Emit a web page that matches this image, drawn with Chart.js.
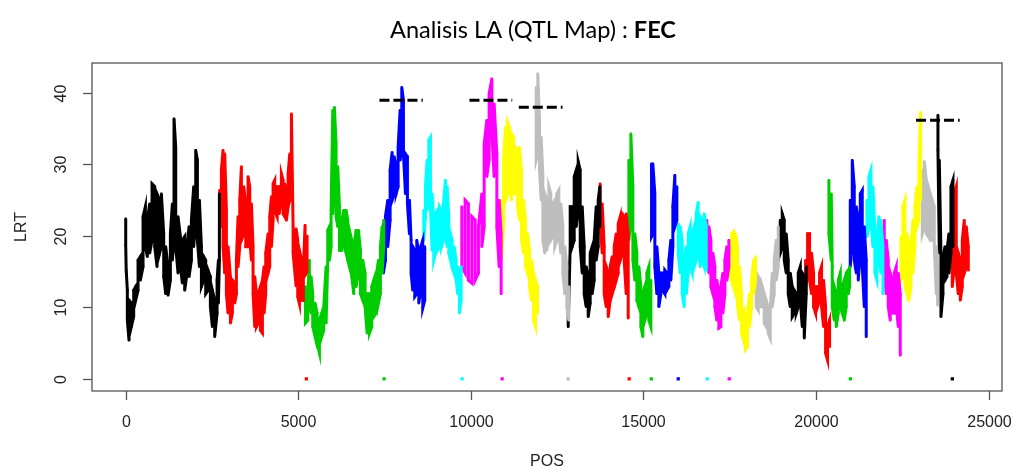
<!DOCTYPE html>
<html><head><meta charset="utf-8">
<script src="https://cdn.jsdelivr.net/npm/chart.js@4/dist/chart.umd.min.js"></script>
<style>html,body{margin:0;padding:0;background:#fff}#wrap{width:1013px;height:471px;position:relative}</style>
</head><body><div id="wrap"><canvas id="c" width="1013" height="471"></canvas></div>
<script>
// ---- data: per chromosome, marker positions with upper / lower LRT of the point band ----
const pos01=[0,15,47,96,163,231,289,357,424,502,569,627,695,763,840,907,985,1033,1101,1159,1226,1294,1352,1400,1449,1516,1584,1642,1709,1777,1835,1903,1970,2028,2077,2135,2193,2260,2318,2386,2453,2511,2579,2647,2685,2714];
const hi01=[22.4,15.2,12.4,11.0,10.6,12.4,12.9,16.6,17.1,22.7,24.1,22.2,24.5,27.3,26.9,25.9,25.0,25.9,20.3,18.5,15.7,20.3,24.5,36.4,32.4,22.7,19.9,19.4,19.9,18.5,21.3,22.2,26.9,32.0,30.6,25.0,18.5,17.1,16.6,15.2,14.3,12.4,11.0,13.8,16.6,25.9];
const lo01=[18.7,14.8,8.2,5.4,7.3,8.7,11.0,12.4,13.8,15.7,18.5,17.1,17.6,19.4,18.5,15.7,17.6,18.5,14.3,11.9,11.7,13.8,16.6,19.4,18.5,14.8,15.7,13.4,12.4,14.8,14.3,16.6,18.5,22.2,19.4,15.7,12.9,13.8,11.9,12.4,10.1,7.3,5.9,9.2,10.6,16.6];
const pos02=[2724,2772,2820,2869,2917,2965,3033,3091,3159,3207,3255,3304,3352,3420,3478,3545,3594,3642,3690,3739,3787,3835,3903,3961,4009,4057,4125,4173,4222,4270,4318,4386,4444,4511,4560,4608,4656,4705,4753,4801,4850,4936,4984,5033,5100,5148,5197,5255];
const hi02=[26.4,29.2,32.0,31.5,23.6,18.5,14.3,13.8,13.4,16.6,22.7,25.0,29.7,26.9,24.5,28.3,26.9,24.5,18.5,14.3,11.9,11.9,12.9,13.8,15.7,17.6,20.3,22.7,25.5,27.3,27.8,26.9,26.9,28.7,27.8,27.3,25.9,28.7,31.5,37.1,21.3,21.0,19.5,18.0,16.5,15.5,21.5,20.0];
const lo02=[22.7,21.3,18.5,14.8,11.9,9.2,7.8,9.2,10.6,11.9,15.7,18.5,19.4,20.3,18.5,18.5,19.4,16.6,11.9,7.3,7.3,7.8,6.8,6.4,9.2,11.9,14.8,15.7,18.5,22.2,23.6,22.7,23.1,25.0,23.1,22.7,22.2,24.1,25.0,25.9,17.6,13.0,11.5,10.5,11.0,11.0,14.5,15.0];
const pos03=[5207,5274,5322,5371,5419,5487,5545,5612,5680,5738,5806,5854,5902,5951,5999,6047,6095,6144,6192,6260,6318,6385,6434,6482,6550,6608,6675,6743,6801,6868,6936,6994,7062,7129,7187,7255,7323,7380,7429,7477];
const hi03=[12.9,11.9,16.6,14.3,11.9,10.6,9.2,8.2,9.2,10.1,15.7,20.8,21.3,23.6,37.6,38.0,32.9,29.7,24.1,22.2,23.6,23.6,22.2,20.8,19.4,18.5,20.8,20.8,18.0,16.6,14.8,11.9,11.9,12.9,13.8,14.3,16.6,18.5,21.3,22.2];
const lo03=[7.8,8.2,11.9,9.2,7.3,5.9,5.0,3.6,5.9,6.8,7.8,16.6,16.6,18.5,23.1,30.6,22.7,21.3,18.0,18.0,18.9,17.6,16.6,15.7,14.3,11.9,12.9,14.8,11.9,11.0,10.1,6.4,6.4,7.3,8.7,9.2,10.6,11.9,14.8,18.5];
const pos04=[7467,7525,7593,7661,7719,7777,7835,7893,7951,7999,8047,8105,8163,8221,8269,8318,8376,8434,8492,8550,8607,8665];
const hi04=[21.7,22.7,25.0,29.2,31.7,31.1,29.7,32.4,37.6,40.8,39.0,31.5,31.1,25.0,19.4,18.5,18.0,19.4,17.6,18.5,19.4,18.5];
const lo04=[14.8,16.6,18.5,22.2,25.0,25.9,25.9,26.9,30.6,32.4,31.5,25.9,24.5,20.3,14.8,12.4,11.5,11.9,10.6,12.4,9.9,11.0];
const pos05=[8637,8685,8733,8782,8830,8878,8926,8975,9033,9091,9149,9207,9265,9313,9361,9410,9458,9516,9574,9622,9670,9719];
const hi05=[23.6,26.9,30.6,33.4,33.8,25.9,22.2,23.1,23.6,24.1,23.6,24.5,27.8,26.9,22.7,20.3,19.4,18.5,16.6,15.7,14.3,15.7];
const lo05=[19.4,22.7,23.6,25.0,24.1,18.0,16.6,17.6,18.0,18.5,18.5,19.4,20.3,18.5,17.6,16.6,15.7,14.8,13.8,11.9,9.2,11.0];
const pos06=[9739,9835,9930,10029,10125,10220,10319,10386,10464,10530,10609,10675,10754,10820,10878];
const hi06=[24.1,25.0,24.5,22.7,22.2,21.3,25.9,32.9,36.2,39.9,42.0,38.5,31.5,25.0,20.3];
const lo06=[15.7,14.8,13.8,13.4,13.8,14.8,18.5,21.3,28.3,30.6,34.3,28.3,21.3,15.7,11.9];
const pos07=[10888,10946,11004,11062,11120,11178,11236,11294,11352,11410,11468,11526,11584,11642,11700,11758,11816,11874,11932];
const hi07=[25.0,30.6,35.2,35.9,35.2,34.3,33.8,32.4,32.0,32.4,29.2,25.0,22.2,20.3,18.0,16.6,14.8,13.8,12.9];
const lo07=[16.6,21.3,25.0,25.9,26.9,25.0,25.9,25.9,24.1,22.2,19.4,17.6,15.7,14.8,12.9,11.0,8.2,7.3,9.2];
const pos08=[11893,11941,11990,12038,12086,12144,12202,12260,12318,12376,12434,12492,12550,12608,12666,12724,12782,12840];
const hi08=[40.8,42.7,36.2,33.8,28.7,25.9,25.0,26.9,25.9,24.5,25.0,25.9,26.4,24.5,21.3,18.5,15.7,12.9];
const lo08=[30.6,31.5,29.2,25.0,19.4,17.6,18.0,20.3,19.4,19.9,18.5,19.4,20.3,17.6,14.8,11.9,10.1,8.2];
const pos09=[12821,12879,12937,12995,13053,13111,13169,13227,13284,13342,13400,13458,13516,13574,13632,13690,13739];
const hi09=[10.1,24.1,24.1,28.3,29.2,30.4,29.2,24.1,18.5,15.7,14.3,17.6,18.5,19.4,24.1,25.0,26.9];
const lo09=[7.3,18.5,18.5,19.4,21.3,23.6,18.5,14.8,11.9,10.1,8.7,10.6,11.9,13.8,16.6,18.5,21.3];
const pos10=[13748,13806,13864,13922,13980,14038,14096,14154,14212,14270,14328,14386,14444,14502,14560];
const hi10=[27.3,24.5,18.5,15.7,14.8,15.7,17.1,18.5,20.3,21.7,22.7,23.1,22.7,23.1,20.3];
const lo10=[22.2,17.6,11.9,10.1,8.7,11.0,11.9,12.9,13.8,14.8,16.6,17.6,16.6,11.9,8.5];
const pos11=[14579,14637,14695,14753,14811,14869,14927,14985,15043,15101,15159,15217];
const hi11=[30.6,34.3,26.9,20.3,17.6,15.7,12.9,11.9,12.9,14.8,15.7,13.8];
const lo11=[19.4,22.2,16.6,13.8,11.0,10.1,7.3,5.9,8.2,9.2,8.2,7.3];
const pos12=[15236,15274,15332,15390,15448,15506,15564,15622,15680,15738,15796,15854,15912,15970];
const hi12=[30.1,30.1,25.9,18.5,14.8,14.8,14.8,15.2,14.8,16.6,19.4,24.1,28.5,26.9];
const lo12=[19.9,20.3,15.7,11.9,10.1,11.9,12.4,11.9,12.4,12.9,13.8,18.5,21.3,22.2];
const pos13=[16009,16067,16125,16183,16241,16299,16356,16414,16472,16530,16588,16646,16704,16762,16820];
const hi13=[21.7,21.3,19.4,16.6,18.5,20.3,21.3,20.3,21.3,23.1,24.7,22.7,22.2,23.1,21.3];
const lo13=[17.6,14.8,11.9,10.1,11.9,14.8,15.7,14.8,15.7,16.6,18.5,15.7,16.6,15.7,15.2];
const pos14=[16840,16898,16956,17014,17071,17129,17187,17245,17303,17361,17419,17477];
const hi14=[22.2,21.3,19.4,17.6,15.7,13.8,11.9,12.9,14.8,16.6,18.5,19.4];
const lo14=[16.6,14.8,12.9,11.9,10.1,8.2,7.1,7.3,9.2,11.9,13.8,15.7];
const pos15=[17497,17555,17613,17670,17728,17786,17844,17902,17960,18018,18076,18134,18192,18250];
const hi15=[19.4,20.3,20.6,20.3,18.5,15.7,11.9,10.1,8.2,9.2,11.9,13.8,16.6,17.1];
const lo15=[14.8,13.8,12.9,11.9,10.1,8.2,6.4,5.4,4.1,4.5,7.3,10.1,11.9,13.8];
const pos16=[18270,18327,18385,18443,18501,18559,18617,18675,18733,18791,18849,18907];
const hi16=[14.8,14.3,13.8,12.9,11.9,11.0,10.1,9.2,14.8,16.6,19.4,21.3];
const lo16=[10.1,9.6,10.1,10.1,7.8,7.3,6.4,5.7,10.1,11.9,13.8,15.7];
const pos17=[18965,19023,19081,19139,19197,19255,19313,19371,19429,19487,19545,19603,19661,19719];
const hi17=[22.2,23.1,22.2,20.3,16.6,14.8,12.9,12.4,11.9,14.8,15.7,14.8,14.3,15.7];
const lo17=[17.6,18.5,16.6,14.8,11.9,10.1,8.7,9.2,9.2,10.1,11.0,7.3,5.7,11.9];
const pos18=[19700,19758,19815,19873,19931,19989,20047,20105,20163,20221,20279,20337,20395];
const hi18=[16.6,20.3,20.3,17.6,14.8,12.9,12.9,14.8,15.7,13.8,10.1,7.3,8.2];
const lo18=[12.9,14.8,13.8,11.9,10.1,9.2,10.1,11.0,10.1,7.3,3.6,2.6,4.5];
const pos19=[20376,20444,20472,20530,20588,20646,20704,20762,20820,20878,20936,20974];
const hi19=[27.8,25.9,15.7,12.9,11.9,13.8,14.8,12.9,13.8,14.8,15.2,15.7];
const lo19=[20.3,16.6,10.1,8.2,7.3,9.2,10.1,9.2,8.2,10.1,11.9,12.9];
const pos20=[20994,21052,21110,21168,21226,21284,21342,21400,21457];
const hi20=[25.0,30.6,26.9,24.1,22.2,25.9,26.4,21.3,16.6];
const lo20=[15.7,19.4,16.6,14.8,13.8,17.6,15.7,10.1,5.9];
const pos21=[21477,21535,21593,21651,21709,21767,21825,21883,21941];
const hi21=[25.0,28.3,29.2,26.9,20.3,19.4,22.7,22.2,18.5];
const lo21=[19.9,21.3,22.2,18.5,14.8,13.8,16.6,14.8,11.9];
const pos22=[21979,22037,22095,22153,22211,22269,22327,22385,22443];
const hi22=[22.2,19.4,16.6,14.8,13.8,14.8,15.7,14.8,11.9];
const lo22=[14.8,11.9,10.1,8.2,9.2,9.2,10.1,7.3,3.3];
const pos23=[22462,22520,22578,22636,22694,22752,22810,22868,22926,22984,23032];
const hi23=[19.9,24.1,25.0,20.3,18.5,18.5,22.2,24.1,26.9,30.1,37.3];
const lo23=[13.8,14.8,12.9,11.9,11.0,12.9,14.8,18.5,21.3,22.2,25.0];
const pos24=[23081,23139,23197,23255,23313,23371,23429,23487,23525];
const hi24=[29.2,30.4,27.8,26.9,25.9,25.0,24.1,18.5,16.6];
const lo24=[20.3,21.3,20.3,19.9,19.4,19.4,18.5,11.9,10.3];
const pos25=[23535,23574,23622,23680,23738,23796,23854,23912,23970];
const hi25=[36.9,30.6,17.6,16.6,18.5,18.0,20.3,26.9,27.8];
const lo25=[32.0,17.6,8.7,11.9,13.8,14.3,14.8,17.6,18.5];
const pos26=[23950,24008,24066,24124,24182,24240,24298,24356,24414];
const hi26=[20.3,25.9,26.9,17.6,16.6,19.4,22.2,21.3,18.5];
const lo26=[12.9,15.7,14.8,11.9,11.0,12.9,14.8,15.7,15.2];

// markers drawn at LRT = 0
const zeroPos=[5235,7487,9748,10907,12820,14588,15229,16010,16849,17487,20997,23951];
const zeroChr=[2,3,5,6,8,10,11,12,13,14,19,25];

// threshold segments
const thrStart=[7352,9960,11390,22900];
const thrEnd=[8608,11200,12656,24163];
const thrLRT=[39.0,39.0,38.0,36.2];

const xTicks=[0,5000,10000,15000,20000,25000];
const yTicks=[0,10,20,30,40];
const palette=['#000000','#FF0000','#00CD00','#0000FF','#00FFFF','#FF00FF','#FFFF00','#BEBEBE'];
const titleNormal='Analisis LA (QTL Map) : ';
const titleBold='FEC';
const xTitle='POS', yTitle='LRT';

const chrData=[[pos01,hi01,lo01],[pos02,hi02,lo02],[pos03,hi03,lo03],[pos04,hi04,lo04],[pos05,hi05,lo05],[pos06,hi06,lo06],[pos07,hi07,lo07],[pos08,hi08,lo08],[pos09,hi09,lo09],[pos10,hi10,lo10],[pos11,hi11,lo11],[pos12,hi12,lo12],[pos13,hi13,lo13],[pos14,hi14,lo14],[pos15,hi15,lo15],[pos16,hi16,lo16],[pos17,hi17,lo17],[pos18,hi18,lo18],[pos19,hi19,lo19],[pos20,hi20,lo20],[pos21,hi21,lo21],[pos22,hi22,lo22],[pos23,hi23,lo23],[pos24,hi24,lo24],[pos25,hi25,lo25],[pos26,hi26,lo26]];

function band(pos,hi,lo){
  const pts=[];
  for(let i=0;i<pos.length;i++){
    if(i%2===0){pts.push({x:pos[i],y:hi[i]});pts.push({x:pos[i],y:lo[i]});}
    else{pts.push({x:pos[i],y:lo[i]});pts.push({x:pos[i],y:hi[i]});}
  }
  return pts;
}

const datasets=[];
chrData.forEach((c,i)=>{
  const col=palette[i%8];
  datasets.push({data:band(c[0],c[1],c[2]),showLine:true,borderColor:col,backgroundColor:col,
    borderWidth:3,pointRadius:1.7,pointStyle:'rect',pointBorderWidth:0,pointBackgroundColor:col,order:2});
});
datasets.push({data:zeroPos.map(p=>({x:p,y:0})),showLine:false,pointStyle:'rect',pointRadius:2.3,pointBorderWidth:0,
  pointBackgroundColor:zeroChr.map(c=>palette[(c-1)%8]),order:2});
thrLRT.forEach((v,i)=>{
  datasets.push({data:[{x:thrStart[i],y:v},{x:thrEnd[i],y:v}],showLine:true,borderColor:'#000',borderWidth:3,
    borderDash:[10,4],pointRadius:0,order:0});
});

const frame={
  id:'frame',
  afterDraw(chart){
    const ctx=chart.ctx, a=chart.chartArea, xs=chart.scales.x, ys=chart.scales.y;
    ctx.save();
    ctx.strokeStyle='#555';ctx.lineWidth=1.3;
    ctx.strokeRect(a.left,a.top,a.right-a.left,a.bottom-a.top);
    ctx.fillStyle='#222';
    ctx.font='16px "Liberation Sans", Arial, sans-serif';
    ctx.textAlign='center';ctx.textBaseline='middle';
    xTicks.forEach(v=>{
      const px=Math.round(xs.getPixelForValue(v))+0.5;
      ctx.beginPath();ctx.moveTo(px,a.bottom);ctx.lineTo(px,a.bottom+9);ctx.stroke();
      ctx.fillText(String(v),px,423);
    });
    yTicks.forEach(v=>{
      const py=Math.round(ys.getPixelForValue(v))+0.5;
      ctx.beginPath();ctx.moveTo(a.left-9,py);ctx.lineTo(a.left,py);ctx.stroke();
      ctx.save();ctx.translate(62,py);ctx.rotate(-Math.PI/2);ctx.fillText(String(v),0,0);ctx.restore();
    });
    ctx.fillText(xTitle,(a.left+a.right)/2,462);
    ctx.save();ctx.translate(22,(a.top+a.bottom)/2);ctx.rotate(-Math.PI/2);ctx.fillText(yTitle,0,0);ctx.restore();
    // title
    const fam='Lato, "Open Sans", sans-serif';
    let size=20;
    ctx.font=size+'px '+fam; let w1=ctx.measureText(titleNormal).width;
    ctx.font='bold '+size+'px '+fam; let w2=ctx.measureText(titleBold).width;
    size=size*286/(w1+w2);
    ctx.font=size+'px '+fam; w1=ctx.measureText(titleNormal).width;
    ctx.font='bold '+size+'px '+fam; w2=ctx.measureText(titleBold).width;
    const x0=533-(w1+w2)/2;
    ctx.textAlign='left';ctx.fillStyle='#000';
    ctx.font=size+'px '+fam; ctx.fillText(titleNormal,x0,30);
    ctx.font='bold '+size+'px '+fam; ctx.fillText(titleBold,x0+w1,30);
    ctx.restore();
  }
};

new Chart(document.getElementById('c'),{
  type:'scatter',
  data:{datasets},
  options:{
    responsive:false,animation:false,devicePixelRatio:1,
    layout:{padding:{left:92,right:11,top:63,bottom:80}},
    scales:{
      x:{type:'linear',min:-977,max:25391,display:false},
      y:{type:'linear',min:-1.7,max:44.2,display:false}
    },
    plugins:{legend:{display:false},tooltip:{enabled:false},title:{display:false}},
    elements:{line:{tension:0}}
  },
  plugins:[frame]
});
</script></body></html>
